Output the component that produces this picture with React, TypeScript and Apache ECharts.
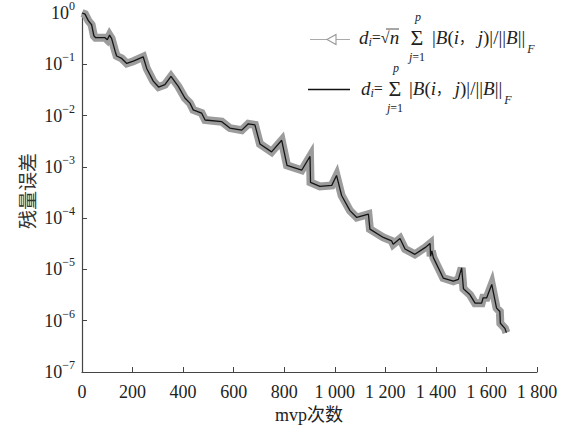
import { useEffect, useRef } from "react";
import * as echarts from "echarts";

const SERIF = '"Liberation Serif", "Times New Roman", serif';
const MIXED = '"Liberation Serif", "Noto Sans CJK SC", serif';
const CJK = '"Noto Sans CJK SC", sans-serif';

// mvp count (x) and residual error (y); both curves overlap in the reference
const mvpCount = [
  0, 12, 25, 38, 47, 54, 91, 100, 109, 117,
  131, 137, 157, 177, 203, 242, 256, 282, 303, 328,
  352, 381, 407, 427, 440, 473, 487, 553, 585, 632,
  658, 684, 704, 750, 790, 811, 869, 902, 904, 941,
  988, 1007, 1027, 1060, 1087, 1133, 1139, 1192, 1225, 1231,
  1258, 1278, 1317, 1357, 1377, 1379, 1384, 1390, 1429, 1469,
  1489, 1502, 1509, 1535, 1555, 1581, 1587, 1601, 1621, 1640,
  1653, 1655, 1673, 1679,
];
const residual = [
  1.0, 0.95, 0.71, 0.59, 0.36, 0.33, 0.33, 0.3, 0.37, 0.32,
  0.18, 0.145, 0.13, 0.104, 0.115, 0.14, 0.083, 0.047, 0.036, 0.04,
  0.058, 0.037, 0.022, 0.0175, 0.0129, 0.0112, 0.0082, 0.0076, 0.0057, 0.0052,
  0.0069, 0.0066, 0.0028, 0.00196, 0.0033, 0.00107, 0.00086, 0.0016, 0.0005, 0.000415,
  0.000435, 0.00068, 0.000276, 0.00014, 0.000103, 0.00012, 6.1e-5, 4.2e-5, 3.6e-5, 3.1e-5,
  4.0e-5, 2.5e-5, 1.97e-5, 2.66e-5, 3.2e-5, 1.8e-5, 2.3e-5, 1.7e-5, 6.8e-6, 5.9e-6,
  6.4e-6, 1.07e-5, 4.2e-6, 3.2e-6, 2.2e-6, 2.2e-6, 2.8e-6, 2.8e-6, 5.1e-6, 1.76e-6,
  1.51e-6, 8.9e-7, 7.1e-7, 5.85e-7,
];

const xTickLabels = ["0", "200", "400", "600", "800", "1 000", "1 200", "1 400", "1 600", "1 800"];
const yTickExponents = ["0", "−1", "−2", "−3", "−4", "−5", "−6", "−7"];

const xName = "mvp次数";
const yName = "残量误差";

const TEXT = "#222";

const formulaRich = {
  r: { fontFamily: SERIF, fontSize: 19, color: TEXT, lineHeight: 22 },
  eq: { fontFamily: SERIF, fontSize: 16, color: TEXT, lineHeight: 22 },
  c: { fontFamily: CJK, fontSize: 14, color: TEXT, lineHeight: 22 },
  it: { fontFamily: SERIF, fontSize: 19, fontStyle: "italic", color: TEXT, lineHeight: 22 },
  sub: { fontFamily: SERIF, fontSize: 12, fontStyle: "italic", color: TEXT, lineHeight: 12, padding: [10, 0, 0, 0] },
  subF: { fontFamily: SERIF, fontSize: 12, fontStyle: "italic", color: TEXT, lineHeight: 12, padding: [24, 0, 0, 2] },
  sig: { fontFamily: SERIF, fontSize: 22, color: TEXT, lineHeight: 22 },
  lim: { fontFamily: SERIF, fontSize: 12, color: TEXT, lineHeight: 12 },
  limIt: { fontFamily: SERIF, fontSize: 12, fontStyle: "italic", color: TEXT, lineHeight: 12 },
};

function richText(x: number, y: number, text: string, align = "left") {
  return {
    type: "text",
    x,
    y,
    silent: true,
    style: { text, align, verticalAlign: "middle", rich: formulaRich, fill: TEXT },
  };
}

function legendFormula(y: number, xd: number, withSqrt: boolean, sigmaX: number, bodyX: number) {
  const els: any[] = [];
  els.push(
    richText(xd, y, withSqrt ? "{it|d}{sub|i}{eq|=√}{it|n}" : "{it|d}{sub|i}{eq|=}")
  );
  if (withSqrt) {
    els.push({
      type: "line",
      silent: true,
      shape: { x1: xd + 27, y1: y - 8, x2: xd + 40, y2: y - 8 },
      style: { stroke: TEXT, lineWidth: 0.8 },
    });
  }
  els.push(richText(sigmaX + 1, y - 20, "{limIt|p}", "center"));
  els.push(richText(sigmaX, y, "{sig|Σ}", "center"));
  els.push(richText(sigmaX, y + 20, "{limIt|j}{lim|=1}", "center"));
  els.push(
    richText(bodyX, y, "{r||}{it|B}{r|(}{it|i}{c|，}{r| }{it|j}{r|)|/||}{it|B}{r|||}{subF|F}")
  );
  return els;
}

export default function App() {
  const ref = useRef<HTMLDivElement>(null);

  useEffect(() => {
    if (!ref.current) return;
    const chart = echarts.init(ref.current, undefined, { renderer: "svg" });
    const data = mvpCount.map((x, i) => [x, residual[i]]);

    const graphic: any[] = [
      // y-axis name
      {
        type: "text",
        x: 26,
        y: 191,
        rotation: Math.PI / 2,
        silent: true,
        style: {
          text: yName,
          fill: "#333",
          fontFamily: CJK,
          fontSize: 19,
          align: "center",
          verticalAlign: "middle",
        },
      },
      // x-axis name
      {
        type: "text",
        x: 309,
        y: 415,
        silent: true,
        style: {
          text: xName,
          fill: TEXT,
          fontFamily: MIXED,
          fontSize: 18,
          align: "center",
          verticalAlign: "middle",
        },
      },
      // legend icon 1: gray line with hollow left-pointing triangle
      {
        type: "line",
        silent: true,
        shape: { x1: 310, y1: 39.5, x2: 350, y2: 39.5 },
        style: { stroke: "#aaa", lineWidth: 1.2 },
      },
      {
        type: "polygon",
        silent: true,
        shape: { points: [[327, 39.5], [336, 34.5], [336, 44.5]] },
        style: { fill: "#fff", stroke: "#999", lineWidth: 1.1 },
      },
      // legend icon 2: black line
      {
        type: "line",
        silent: true,
        shape: { x1: 308, y1: 89.5, x2: 350, y2: 89.5 },
        style: { stroke: "#111", lineWidth: 1.3 },
      },
      ...legendFormula(37, 359, true, 417, 432),
      ...legendFormula(88, 361, false, 395, 409),
    ];

    chart.setOption({
      animation: false,
      backgroundColor: "#fff",
      grid: { left: 82, right: 33, top: 13, bottom: 57, containLabel: false },
      xAxis: {
        type: "value",
        min: 0,
        max: 1800,
        interval: 200,
        axisLine: { show: true, lineStyle: { color: "#444", width: 1.2 } },
        axisTick: { show: true, inside: true, length: 5, lineStyle: { color: "#444" } },
        splitLine: { show: false },
        axisLabel: {
          margin: 11,
          color: TEXT,
          fontFamily: SERIF,
          fontSize: 18,
          formatter: (v: number) => xTickLabels[Math.round(v / 200)] ?? "",
        },
      },
      yAxis: {
        type: "log",
        logBase: 10,
        min: 1e-7,
        max: 1,
        interval: 1,
        axisLine: { show: true, lineStyle: { color: "#444", width: 1.2 } },
        axisTick: { show: true, inside: true, length: 5, lineStyle: { color: "#444" } },
        splitLine: { show: false },
        minorTick: { show: false },
        axisLabel: {
          margin: 7,
          color: TEXT,
          formatter: (v: number) => {
            const e = Math.round(-Math.log10(v));
            return `{b|10}{s|${yTickExponents[e] ?? ""}}`;
          },
          rich: {
            b: { fontFamily: SERIF, fontSize: 18, color: TEXT, lineHeight: 20 },
            s: { fontFamily: SERIF, fontSize: 12, color: TEXT, lineHeight: 20, padding: [0, 0, 14, 0] },
          },
        },
      },
      series: [
        {
          name: "scaled",
          type: "line",
          data,
          showSymbol: false,
          silent: true,
          lineStyle: { color: "#9c9c9c", width: 8, join: "miter", miterLimit: 4 },
          z: 2,
        },
        {
          name: "plain",
          type: "line",
          data,
          showSymbol: false,
          silent: true,
          lineStyle: { color: "#151515", width: 1.3 },
          z: 3,
        },
      ],
      graphic,
    });

    return () => chart.dispose();
  }, []);

  return (
    <div
      ref={ref}
      style={{ position: "fixed", left: 0, top: 0, width: 570, height: 429, background: "#fff" }}
    />
  );
}
